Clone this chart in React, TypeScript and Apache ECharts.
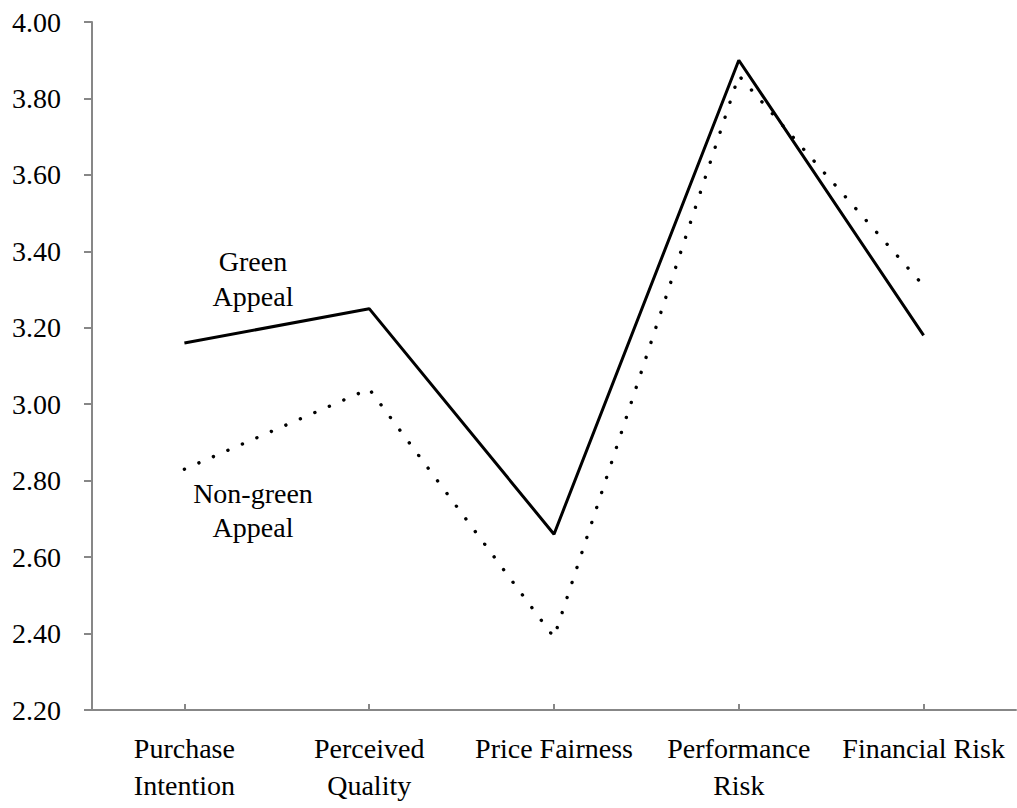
import React, { useEffect, useRef } from "react";
import * as echarts from "echarts";

const categories = [
  "Purchase\nIntention",
  "Perceived\nQuality",
  "Price Fairness",
  "Performance\nRisk",
  "Financial Risk",
];
const greenAppeal = [3.16, 3.25, 2.66, 3.9, 3.18];
const nonGreenAppeal = [2.83, 3.04, 2.39, 3.86, 3.31];
const yMin = 2.2;
const yMax = 4.0;
const yStep = 0.2;

const FONT = "Liberation Serif";

export default function App() {
  const ref = useRef<HTMLDivElement>(null);
  useEffect(() => {
    if (!ref.current) return;
    const chart = echarts.init(ref.current, null, { renderer: "svg" });
    const axisColor = "#878787";
    chart.setOption({
      animation: false,
      backgroundColor: "#ffffff",
      textStyle: { fontFamily: FONT },
      grid: { left: 92, right: 1, top: 22, bottom: 98, containLabel: false },
      xAxis: {
        type: "category",
        data: categories,
        boundaryGap: true,
        axisLine: { lineStyle: { color: axisColor, width: 2 } },
        axisTick: { show: true, alignWithLabel: true, inside: true, length: 6, lineStyle: { color: axisColor, width: 2 } },
        axisLabel: {
          interval: 0,
          color: "#000",
          fontFamily: FONT,
          fontSize: 28,
          lineHeight: 37,
          margin: 20,
        },
        splitLine: { show: false },
      },
      yAxis: {
        type: "value",
        min: yMin,
        max: yMax,
        interval: yStep,
        axisLine: { show: true, lineStyle: { color: axisColor, width: 2 } },
        axisTick: { show: true, length: 8, lineStyle: { color: axisColor, width: 2 } },
        axisLabel: {
          color: "#000",
          fontFamily: FONT,
          fontSize: 28,
          margin: 31,
          formatter: (v: number) => v.toFixed(2),
        },
        splitLine: { show: false },
      },
      series: [
        {
          name: "Green Appeal",
          type: "line",
          data: greenAppeal,
          symbol: "none",
          lineStyle: { color: "#000", width: 3, type: "solid" },
          z: 3,
        },
        {
          name: "Non-green Appeal",
          type: "line",
          data: nonGreenAppeal,
          symbol: "none",
          lineStyle: { color: "#000", width: 3.4, type: [0.1, 15.7], cap: "round" },
          z: 2,
        },
      ],
      graphic: [
        {
          type: "text",
          x: 253,
          y: 244,
          style: {
            text: "Green\nAppeal",
            fontFamily: FONT,
            fontSize: 28,
            lineHeight: 35,
            fill: "#000",
            align: "center",
          },
        },
        {
          type: "text",
          x: 253,
          y: 476,
          style: {
            text: "Non-green\nAppeal",
            fontFamily: FONT,
            fontSize: 28,
            lineHeight: 34,
            fill: "#000",
            align: "center",
          },
        },
      ],
    });
    return () => chart.dispose();
  }, []);
  return (
    <div
      ref={ref}
      style={{ position: "fixed", left: 0, top: 0, width: 1017, height: 808, background: "#fff" }}
    />
  );
}
